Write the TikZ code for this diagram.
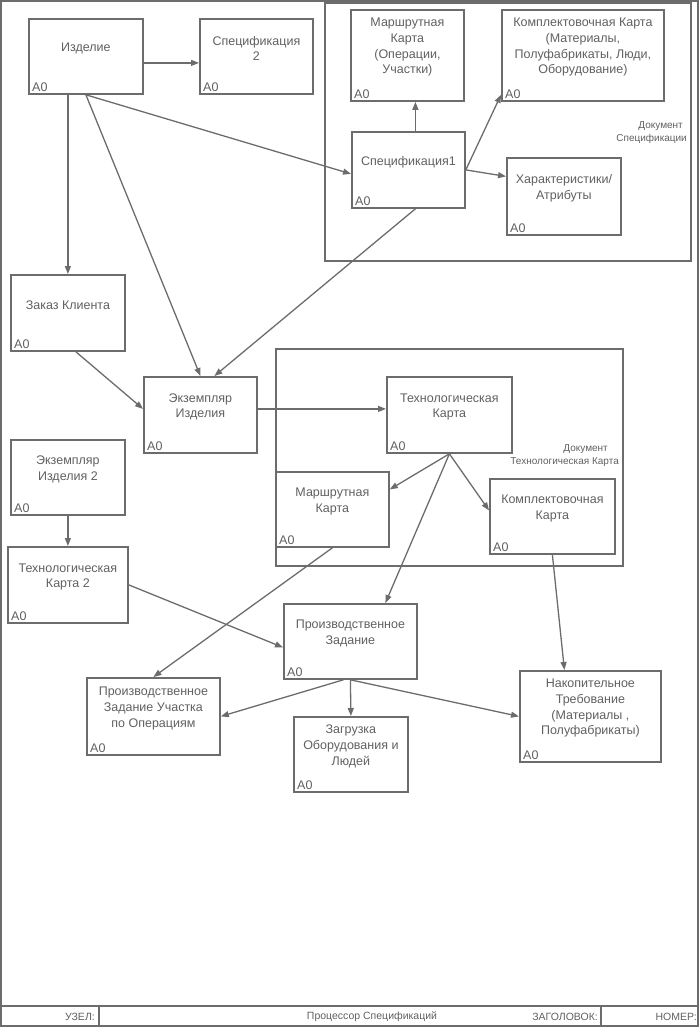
\documentclass[tikz,border=0pt]{standalone}
\usepackage{fontspec}
\setmainfont{Liberation Sans}
\usetikzlibrary{arrows.meta}
\definecolor{idefline}{RGB}{108,108,108}
\definecolor{ideftext}{RGB}{96,96,96}
\tikzset{
  idefbox/.style={draw=idefline, line width=1.8pt, rectangle, anchor=north west, inner sep=0pt},
  boxtext/.style={text=ideftext, align=center, inner sep=0pt, font=\fontsize{12.5}{15.7}\selectfont},
  boxcode/.style={text=ideftext, anchor=south west, inner xsep=4pt, inner ysep=3pt, font=\fontsize{12.5}{15}\selectfont},
  link/.style={draw=idefline, line width=1.3pt, -{Triangle[length=8pt,width=6pt]}},
  docframe/.style={draw=idefline, line width=1.8pt, rectangle, anchor=north west, inner sep=0pt},
  doclabel/.style={text=ideftext, align=right, anchor=east, inner sep=0pt, font=\fontsize{10}{13}\selectfont},
  foottext/.style={text=ideftext, inner sep=0pt, font=\fontsize{10.5}{12}\selectfont},
}
% box: name, left, top, width, height, text
\newcommand{\idef}[6]{%
  \node[idefbox, minimum width=#4pt, minimum height=#5pt] (#1) at (#2,#3) {};
  \node[boxtext] (#1-txt) at ([yshift=8pt]#1.center) {#6};
  \node[boxcode] (#1-code) at (#1.south west) {A0};
}
\begin{document}
\begin{tikzpicture}[x=1pt, y=-1pt]
  \useasboundingbox (0,0) rectangle (700,1028);
  % sheet and footer
  \draw[idefline, line width=1.8pt] (1,1) rectangle (698,1026);
  \draw[idefline, line width=1.8pt] (1,1006) -- (698,1006);
  \draw[idefline, line width=1.8pt] (99,1006) -- (99,1026) (601,1006) -- (601,1026);
  \node[foottext, anchor=east] (uzel) at (95,1017) {УЗЕЛ:};
  \node[foottext] (title) at (372,1017) {Процессор Спецификаций};
  \node[foottext, anchor=east] (zagol) at (598,1017) {ЗАГОЛОВОК:};
  \node[foottext, anchor=east] (nomer) at (697,1017) {НОМЕР:};
  % document frames
  \node[docframe, minimum width=366pt, minimum height=258pt] (docspec) at (324,2) {};
  \node[doclabel] (docspec-lbl) at (687,133) {Документ\kern4pt\\Спецификации};
  \node[docframe, minimum width=347pt, minimum height=217pt] (doctk) at (275,348) {};
  \node[doclabel] (doctk-lbl) at (619,456) {Документ\kern11pt\\Технологическая Карта};
  % boxes
  \idef{izd}{28}{18}{114}{75}{Изделие}
  \idef{spec2}{199}{18}{113}{75}{Спецификация\\2}
  \idef{marsh1}{350}{9}{113}{91}{Маршрутная\\Карта\\(Операции,\\Участки)}
  \idef{komp1}{501}{9}{162}{91}{Комплектовочная Карта\\(Материалы,\\Полуфабрикаты, Люди,\\Оборудование)}
  \idef{spec1}{351}{131}{113}{76}{Спецификация1}
  \idef{har}{506}{157}{114}{77}{Характеристики/\\Атрибуты}
  \idef{zakaz}{10}{274}{114}{76}{Заказ Клиента}
  \idef{ekz}{143}{376}{113}{76}{Экземпляр\\Изделия}
  \idef{ekz2}{10}{439}{114}{75}{Экземпляр\\Изделия 2}
  \idef{tk2}{7}{546}{120}{76}{Технологическая\\Карта 2}
  \idef{tk}{386}{376}{125}{76}{Технологическая\\Карта}
  \idef{marsh2}{275}{471}{113}{75}{Маршрутная\\Карта}
  \idef{komp2}{489}{478}{125}{75}{Комплектовочная\\Карта}
  \idef{pz}{283}{603}{133}{75}{Производственное\\Задание}
  \idef{pzuo}{86}{677}{133}{77}{Производственное\\Задание Участка\\по Операциям}
  \idef{zag}{293}{716}{114}{75}{Загрузка\\Оборудования и\\Людей}
  \idef{nt}{519}{670}{141}{91}{Накопительное\\Требование\\(Материалы ,\\Полуфабрикаты)}
  % links
  \draw[link] ([yshift=-6.5pt]izd.east) -- ([yshift=-6.5pt]spec2.west);
  \draw[link] (izd.south -| zakaz.north) -- (zakaz.north);
  \draw[link] (izd.south) -- (ekz.north);
  \draw[link] (izd.south) -- ([yshift=-4pt]spec1.west);
  \draw[link] ([xshift=7pt]spec1.north) -- ([xshift=7pt]spec1.north |- marsh1.south);
  \draw[link] (spec1.east) -- ([yshift=7pt]komp1.south west);
  \draw[link] (spec1.east) -- ([yshift=20pt]har.west);
  \draw[link] ([xshift=7pt]spec1.south) -- ([xshift=14pt]ekz.north);
  \draw[link] ([xshift=8pt]zakaz.south) -- ([yshift=6pt]ekz.west);
  \draw[link] ([yshift=6pt]ekz.east) -- ([yshift=6pt]tk.west);
  \draw[link] (tk.south) -- ([yshift=20pt]marsh2.east);
  \draw[link] (tk.south) -- ([yshift=6pt]komp2.west);
  \draw[link] (tk.south) -- ([xshift=35pt]pz.north);
  \draw[link] (marsh2.south) -- (pzuo.north);
  \draw[link] (komp2.south) -- ([xshift=-26pt]nt.north);
  \draw[link] (ekz2.south) -- (tk2.north);
  \draw[link] (tk2.east) -- ([yshift=-6pt]pz.west);
  \draw[link] ([xshift=-7pt]pz.south) -- (pzuo.east);
  \draw[link] (pz.south) -- (zag.north);
  \draw[link] (pz.south) -- (nt.west);
\end{tikzpicture}
\end{document}
